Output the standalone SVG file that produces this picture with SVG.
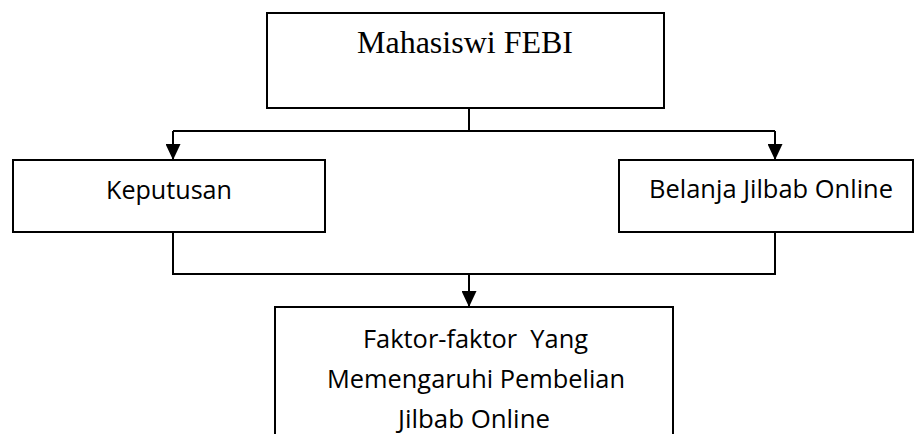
<svg xmlns="http://www.w3.org/2000/svg" width="914" height="434" viewBox="0 0 914 434">
  <style>
    .box { fill: #ffffff; stroke: #000000; stroke-width: 2; }
    .conn { fill: none; stroke: #000000; stroke-width: 2; }
    .serif { font-family: "Liberation Serif", "Times New Roman", serif; font-size: 32px; fill: #000000; }
    .sans { font-family: "Open Sans", "Liberation Sans", Arial, sans-serif; font-size: 25px; fill: #000000; }
  </style>
  <defs>
    <marker id="arrow" markerUnits="userSpaceOnUse" viewBox="0 0 16 15" refX="16" refY="7.5" markerWidth="16" markerHeight="15" orient="auto">
      <path d="M0,0 L16,7.5 L0,15 Z" fill="#000000"/>
    </marker>
  </defs>
  <rect width="914" height="434" fill="#ffffff"/>

  <g id="connectors">
    <path class="conn" d="M469,108 V131"/>
    <path class="conn" d="M173,131 H775"/>
    <path class="conn" d="M173,131 V160" marker-end="url(#arrow)"/>
    <path class="conn" d="M775,131 V160" marker-end="url(#arrow)"/>
    <path class="conn" d="M173,232 V274 H775 V232"/>
    <path class="conn" d="M469,274 V307" marker-end="url(#arrow)"/>
  </g>

  <g id="node-mahasiswi">
    <rect class="box" x="267" y="13" width="397" height="95"/>
    <text class="serif" x="465" y="53" text-anchor="middle">Mahasiswi FEBI</text>
  </g>

  <g id="node-keputusan">
    <rect class="box" x="13" y="160" width="312" height="72"/>
    <text class="sans" x="106" y="199" textLength="126" lengthAdjust="spacingAndGlyphs">Keputusan</text>
  </g>

  <g id="node-belanja">
    <rect class="box" x="619" y="160" width="294" height="72"/>
    <text class="sans" x="649" y="198" textLength="244" lengthAdjust="spacingAndGlyphs">Belanja Jilbab Online</text>
  </g>

  <g id="node-faktor">
    <rect class="box" x="275" y="307" width="398" height="140"/>
    <text class="sans" x="363" y="348" textLength="225" lengthAdjust="spacingAndGlyphs" xml:space="preserve">Faktor-faktor  Yang</text>
    <text class="sans" x="327" y="388" textLength="298" lengthAdjust="spacingAndGlyphs">Memengaruhi Pembelian</text>
    <text class="sans" x="398" y="428" textLength="152" lengthAdjust="spacingAndGlyphs">Jilbab Online</text>
  </g>
</svg>
